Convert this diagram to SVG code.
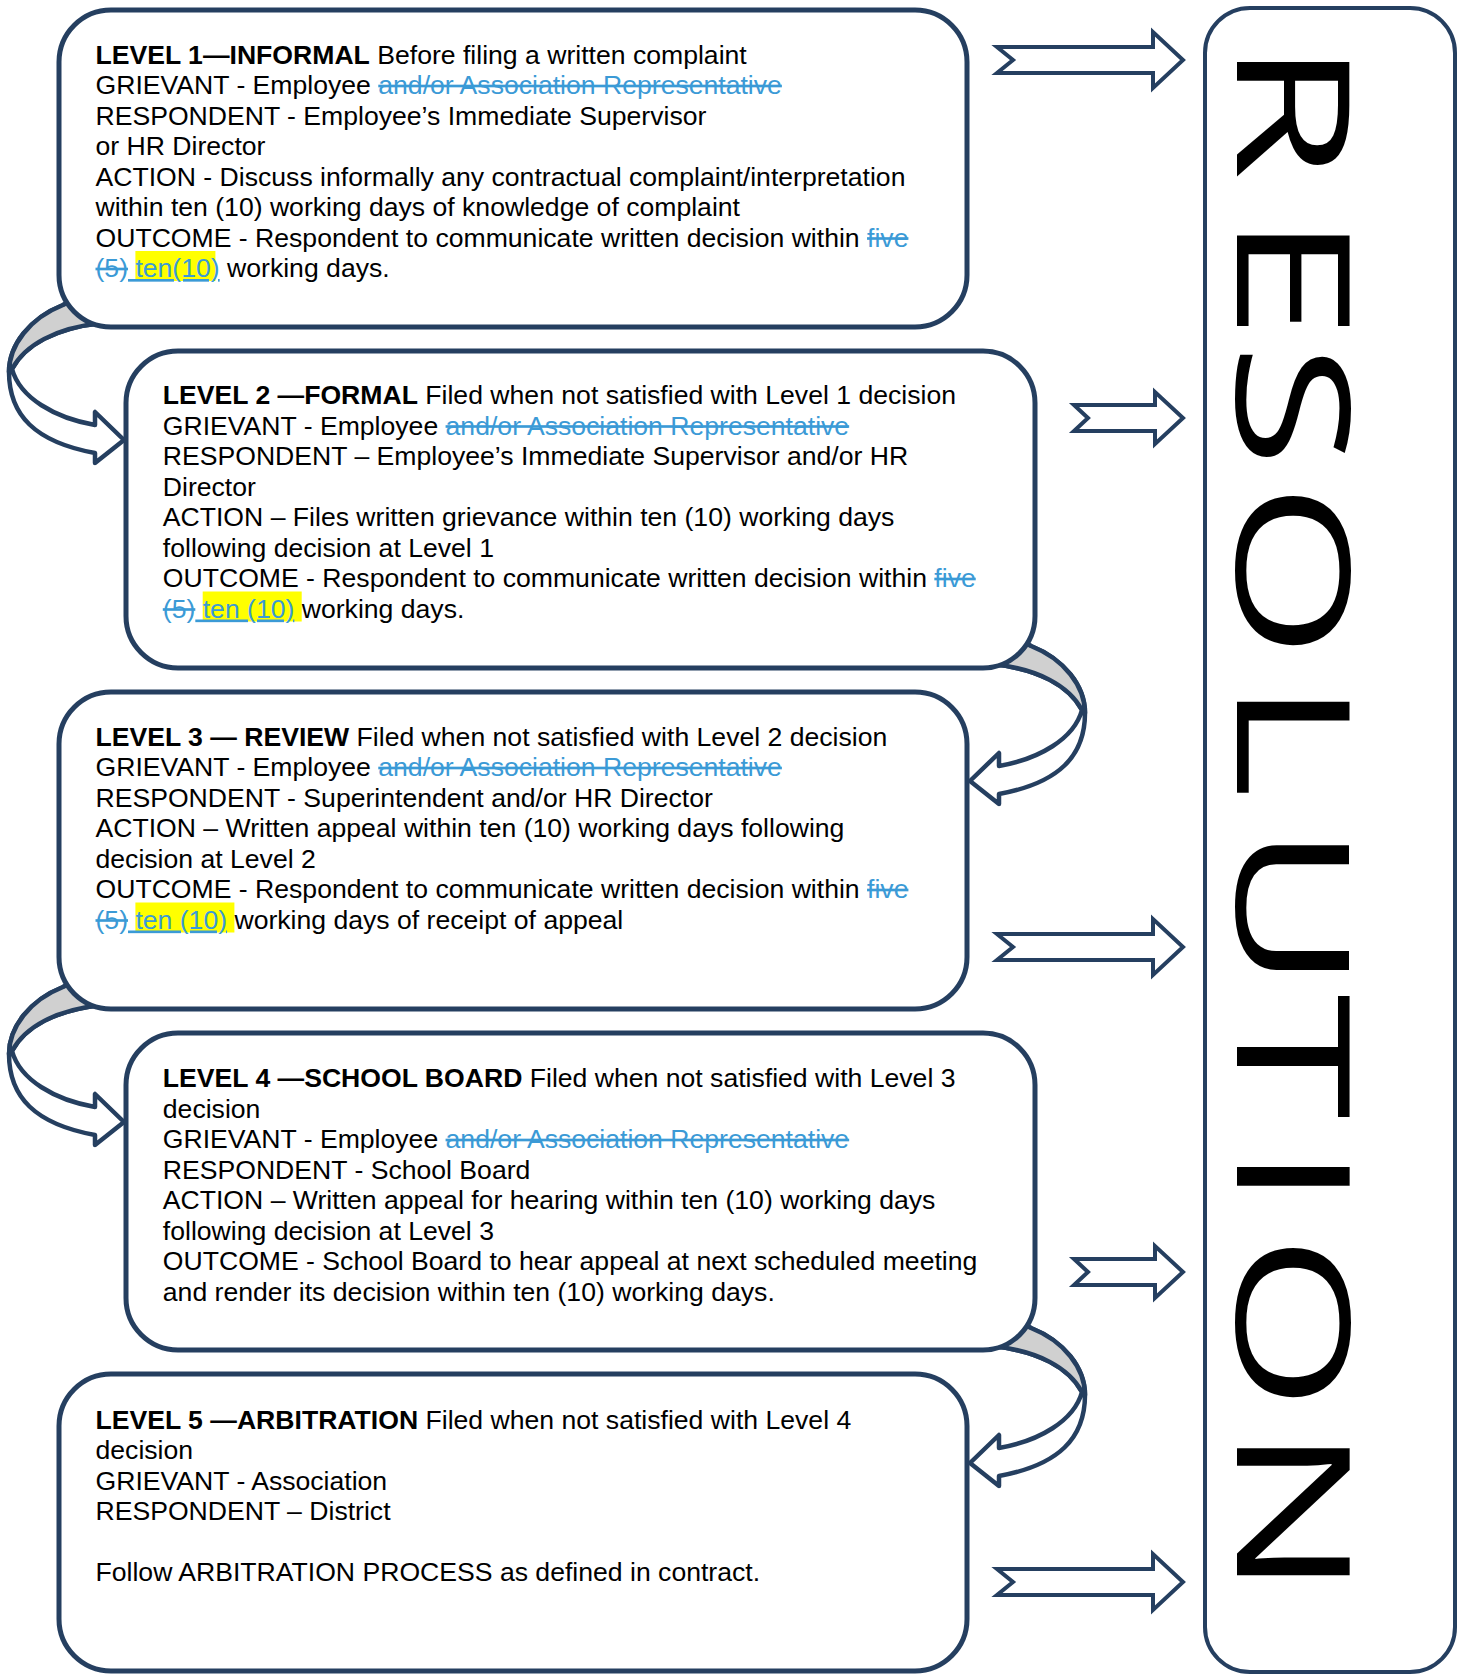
<svg xmlns="http://www.w3.org/2000/svg" xmlns:xlink="http://www.w3.org/1999/xlink" width="1461" height="1679" viewBox="0 0 1461 1679">
<style>
.box{fill:#fff;stroke:#253F60;stroke-width:5}
.res{fill:#fff;stroke:#253F60;stroke-width:4}
.arr{fill:#fff;stroke:#253F60;stroke-width:4;stroke-linejoin:miter}
.ut{stroke:#253F60;stroke-width:4.5;stroke-linejoin:round}
.t{font-family:"Liberation Sans",Arial,sans-serif;font-size:26.6px;fill:#000}
.b{font-weight:bold}
.s{fill:#3B9AD6;text-decoration:line-through}
.u{fill:#3B9AD6;text-decoration:underline}
.hl{fill:#FFFF00}
.big{font-family:"Open Sans","DejaVu Sans",sans-serif;font-size:157px;fill:#000}
</style>
<defs>
<path id="arrLong" d="M -186,-13 L -30,-13 L -30,-28 L 0,0 L -30,28 L -30,13 L -186,13 L -170,0 Z"/>
<path id="arrShort" d="M -109,-13 L -28,-13 L -28,-26 L 0,0 L -28,26 L -28,13 L -109,13 L -95,0 Z"/>
<g id="uturn">
<path class="ut" fill="#fff" d="M 80,296 L 63,305 C 30,318 9,345 9,372 C 9,415 35,442 95,453 L 95,463 L 124,440 L 95,412 L 95,425 C 55,418 20,398 12,369 C 25,345 55,328 102,323 Z"/>
<path class="ut" fill="#D0D0D0" d="M 80,296 L 63,305 C 30,318 9,345 9,372 L 12,369 C 25,345 55,328 102,323 Z"/>
</g>
</defs>

<g id="connectors">
<use xlink:href="#uturn"/>
<use xlink:href="#uturn" transform="translate(1094,341) scale(-1,1)"/>
<use xlink:href="#uturn" transform="translate(0,682)"/>
<use xlink:href="#uturn" transform="translate(1094,1023) scale(-1,1)"/>
<use xlink:href="#arrLong" class="arr" transform="translate(1183,60)"/>
<use xlink:href="#arrShort" class="arr" transform="translate(1183,418)"/>
<use xlink:href="#arrLong" class="arr" transform="translate(1183,947)"/>
<use xlink:href="#arrShort" class="arr" transform="translate(1183,1272)"/>
<use xlink:href="#arrLong" class="arr" transform="translate(1183,1582)"/>
</g>

<g id="level1">
<rect class="box" x="59" y="10" width="908" height="317" rx="52"/>
<rect class="hl" x="135.4" y="251" width="80" height="30"/>
<text class="t" x="95.5" y="63.5"><tspan class="b">LEVEL 1—INFORMAL</tspan> Before filing a written complaint</text>
<text class="t" x="95.5" y="94">GRIEVANT - Employee <tspan class="s">and/or Association Representative</tspan></text>
<text class="t" x="95.5" y="124.5">RESPONDENT - Employee’s Immediate Supervisor</text>
<text class="t" x="95.5" y="155">or HR Director</text>
<text class="t" x="95.5" y="185.5">ACTION - Discuss informally any contractual complaint/interpretation</text>
<text class="t" x="95.5" y="216">within ten (10) working days of knowledge of complaint</text>
<text class="t" x="95.5" y="246.5">OUTCOME - Respondent to communicate written decision within <tspan class="s">five</tspan></text>
<text class="t" x="95.5" y="277"><tspan class="s">(5)</tspan><tspan class="u"> ten(10)</tspan> working days.</text>
</g>

<g id="level2">
<rect class="box" x="126" y="351" width="909" height="317" rx="52"/>
<rect class="hl" x="202.7" y="591.5" width="99" height="30"/>
<text class="t" x="162.8" y="404"><tspan class="b">LEVEL 2 —FORMAL</tspan> Filed when not satisfied with Level 1 decision</text>
<text class="t" x="162.8" y="434.5">GRIEVANT - Employee <tspan class="s">and/or Association Representative</tspan></text>
<text class="t" x="162.8" y="465">RESPONDENT – Employee’s Immediate Supervisor and/or HR</text>
<text class="t" x="162.8" y="495.5">Director</text>
<text class="t" x="162.8" y="526">ACTION – Files written grievance within ten (10) working days</text>
<text class="t" x="162.8" y="556.5">following decision at Level 1</text>
<text class="t" x="162.8" y="587">OUTCOME - Respondent to communicate written decision within <tspan class="s">five</tspan></text>
<text class="t" x="162.8" y="617.5"><tspan class="s">(5)</tspan><tspan class="u"> ten (10)</tspan> working days.</text>
</g>

<g id="level3">
<rect class="box" x="59" y="692" width="908" height="317" rx="52"/>
<rect class="hl" x="135.4" y="902.5" width="99" height="30"/>
<text class="t" x="95.5" y="745.5"><tspan class="b">LEVEL 3 — REVIEW</tspan> Filed when not satisfied with Level 2 decision</text>
<text class="t" x="95.5" y="776">GRIEVANT - Employee <tspan class="s">and/or Association Representative</tspan></text>
<text class="t" x="95.5" y="806.5">RESPONDENT - Superintendent and/or HR Director</text>
<text class="t" x="95.5" y="837">ACTION – Written appeal within ten (10) working days following</text>
<text class="t" x="95.5" y="867.5">decision at Level 2</text>
<text class="t" x="95.5" y="898">OUTCOME - Respondent to communicate written decision within <tspan class="s">five</tspan></text>
<text class="t" x="95.5" y="928.5"><tspan class="s">(5)</tspan><tspan class="u"> ten (10)</tspan> working days of receipt of appeal</text>
</g>

<g id="level4">
<rect class="box" x="126" y="1033" width="909" height="317" rx="52"/>
<text class="t" x="162.8" y="1087"><tspan class="b">LEVEL 4 —SCHOOL BOARD</tspan> Filed when not satisfied with Level 3</text>
<text class="t" x="162.8" y="1117.5">decision</text>
<text class="t" x="162.8" y="1148">GRIEVANT - Employee <tspan class="s">and/or Association Representative</tspan></text>
<text class="t" x="162.8" y="1178.5">RESPONDENT - School Board</text>
<text class="t" x="162.8" y="1209">ACTION – Written appeal for hearing within ten (10) working days</text>
<text class="t" x="162.8" y="1239.5">following decision at Level 3</text>
<text class="t" x="162.8" y="1270">OUTCOME - School Board to hear appeal at next scheduled meeting</text>
<text class="t" x="162.8" y="1300.5">and render its decision within ten (10) working days.</text>
</g>

<g id="level5">
<rect class="box" x="59" y="1374" width="908" height="297" rx="52"/>
<text class="t" x="95.5" y="1428.5"><tspan class="b">LEVEL 5 —ARBITRATION</tspan> Filed when not satisfied with Level 4</text>
<text class="t" x="95.5" y="1459">decision</text>
<text class="t" x="95.5" y="1489.5">GRIEVANT - Association</text>
<text class="t" x="95.5" y="1520">RESPONDENT – District</text>
<text class="t" x="95.5" y="1581">Follow ARBITRATION PROCESS as defined in contract.</text>
</g>

<g id="resolution">
<rect class="res" x="1205" y="8" width="250" height="1664" rx="45"/>
<text class="big" transform="translate(1237,0) rotate(90) scale(1.45,1)" x="27.5 147 236.5 332.4 468.7 568.8 685.5 789.4 851.1 983.5" y="0">RESOLUTION</text>
</g>
</svg>
